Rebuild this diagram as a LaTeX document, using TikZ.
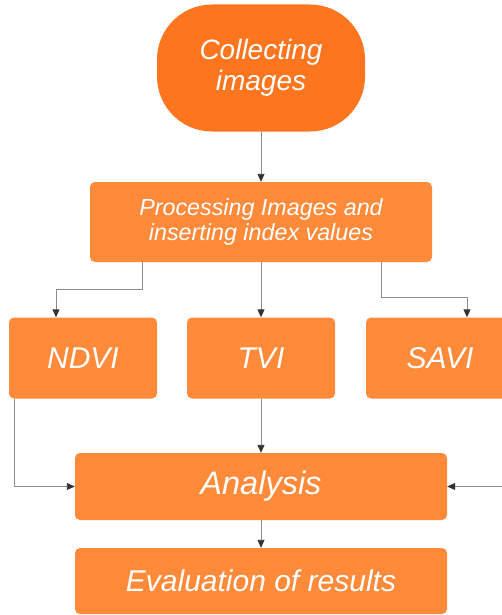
\documentclass[tikz,border=0pt]{standalone}
\usepackage{fontspec}
\setmainfont{Liberation Sans}
\usetikzlibrary{arrows.meta}
\definecolor{boxorange}{HTML}{FE8A3A}
\definecolor{startorange}{HTML}{FD761F}
\definecolor{linegray}{HTML}{8C8C8C}
\definecolor{tipgray}{HTML}{333333}
\begin{document}
\begin{tikzpicture}[x=1pt,y=-1pt,
        box/.style={rectangle,rounded corners=5pt,fill=boxorange,
            text=white,font=\itshape,align=center,inner sep=0pt},
        link/.style={draw=linegray,line width=0.9pt,
            -{Triangle[length=8pt,width=7pt,color=tipgray]}}]
\useasboundingbox (0,0) rectangle (502,615);

\node[box,fill=startorange,rounded corners=55pt,minimum width=208pt,
    minimum height=127pt,font=\fontsize{28}{31}\selectfont\itshape]
    at (261,68) (start) {Collecting\\images};
\node[box,minimum width=342pt,minimum height=80pt,
    font=\fontsize{23.3}{25}\selectfont\itshape]
    at (261,222) (proc) {Processing Images and\\inserting index values};

\node[box,minimum width=148pt,minimum height=81pt,
    font=\fontsize{30}{32}\selectfont\itshape] at (83,358) (ndvi) {NDVI};
\node[box,minimum width=148pt,minimum height=81pt,
    font=\fontsize{30}{32}\selectfont\itshape] at (261,358) (tvi) {TVI};
\node[box,minimum width=148pt,minimum height=81pt,
    font=\fontsize{30}{32}\selectfont\itshape] at (440,358) (savi) {SAVI};

\node[box,minimum width=372pt,minimum height=67pt,
    font=\fontsize{32.5}{34}\selectfont\itshape] at (261,486.5) (ana) {Analysis};
\node[box,minimum width=372pt,minimum height=66pt,
    font=\fontsize{30}{32}\selectfont\itshape] at (261,581) (eval)
    {Evaluation of results};

\draw[link] (start) -- (proc);
\draw[link] ([xshift=-119pt]proc.south) |- ([xshift=-27pt,yshift=28pt]ndvi.north)
    -- ([xshift=-27pt]ndvi.north);
\draw[link] (proc) -- (tvi);
\draw[link] ([xshift=120pt]proc.south) |- ([xshift=27pt,yshift=20pt]savi.north)
    -- ([xshift=27pt]savi.north);

\draw[link] ([xshift=-69pt]ndvi.south) |- (ana.west);
\draw[link] (tvi) -- (ana);
\draw[link] ([xshift=69pt]savi.south) |- (ana.east);
\draw[link] (ana) -- (eval);
\end{tikzpicture}
\end{document}
